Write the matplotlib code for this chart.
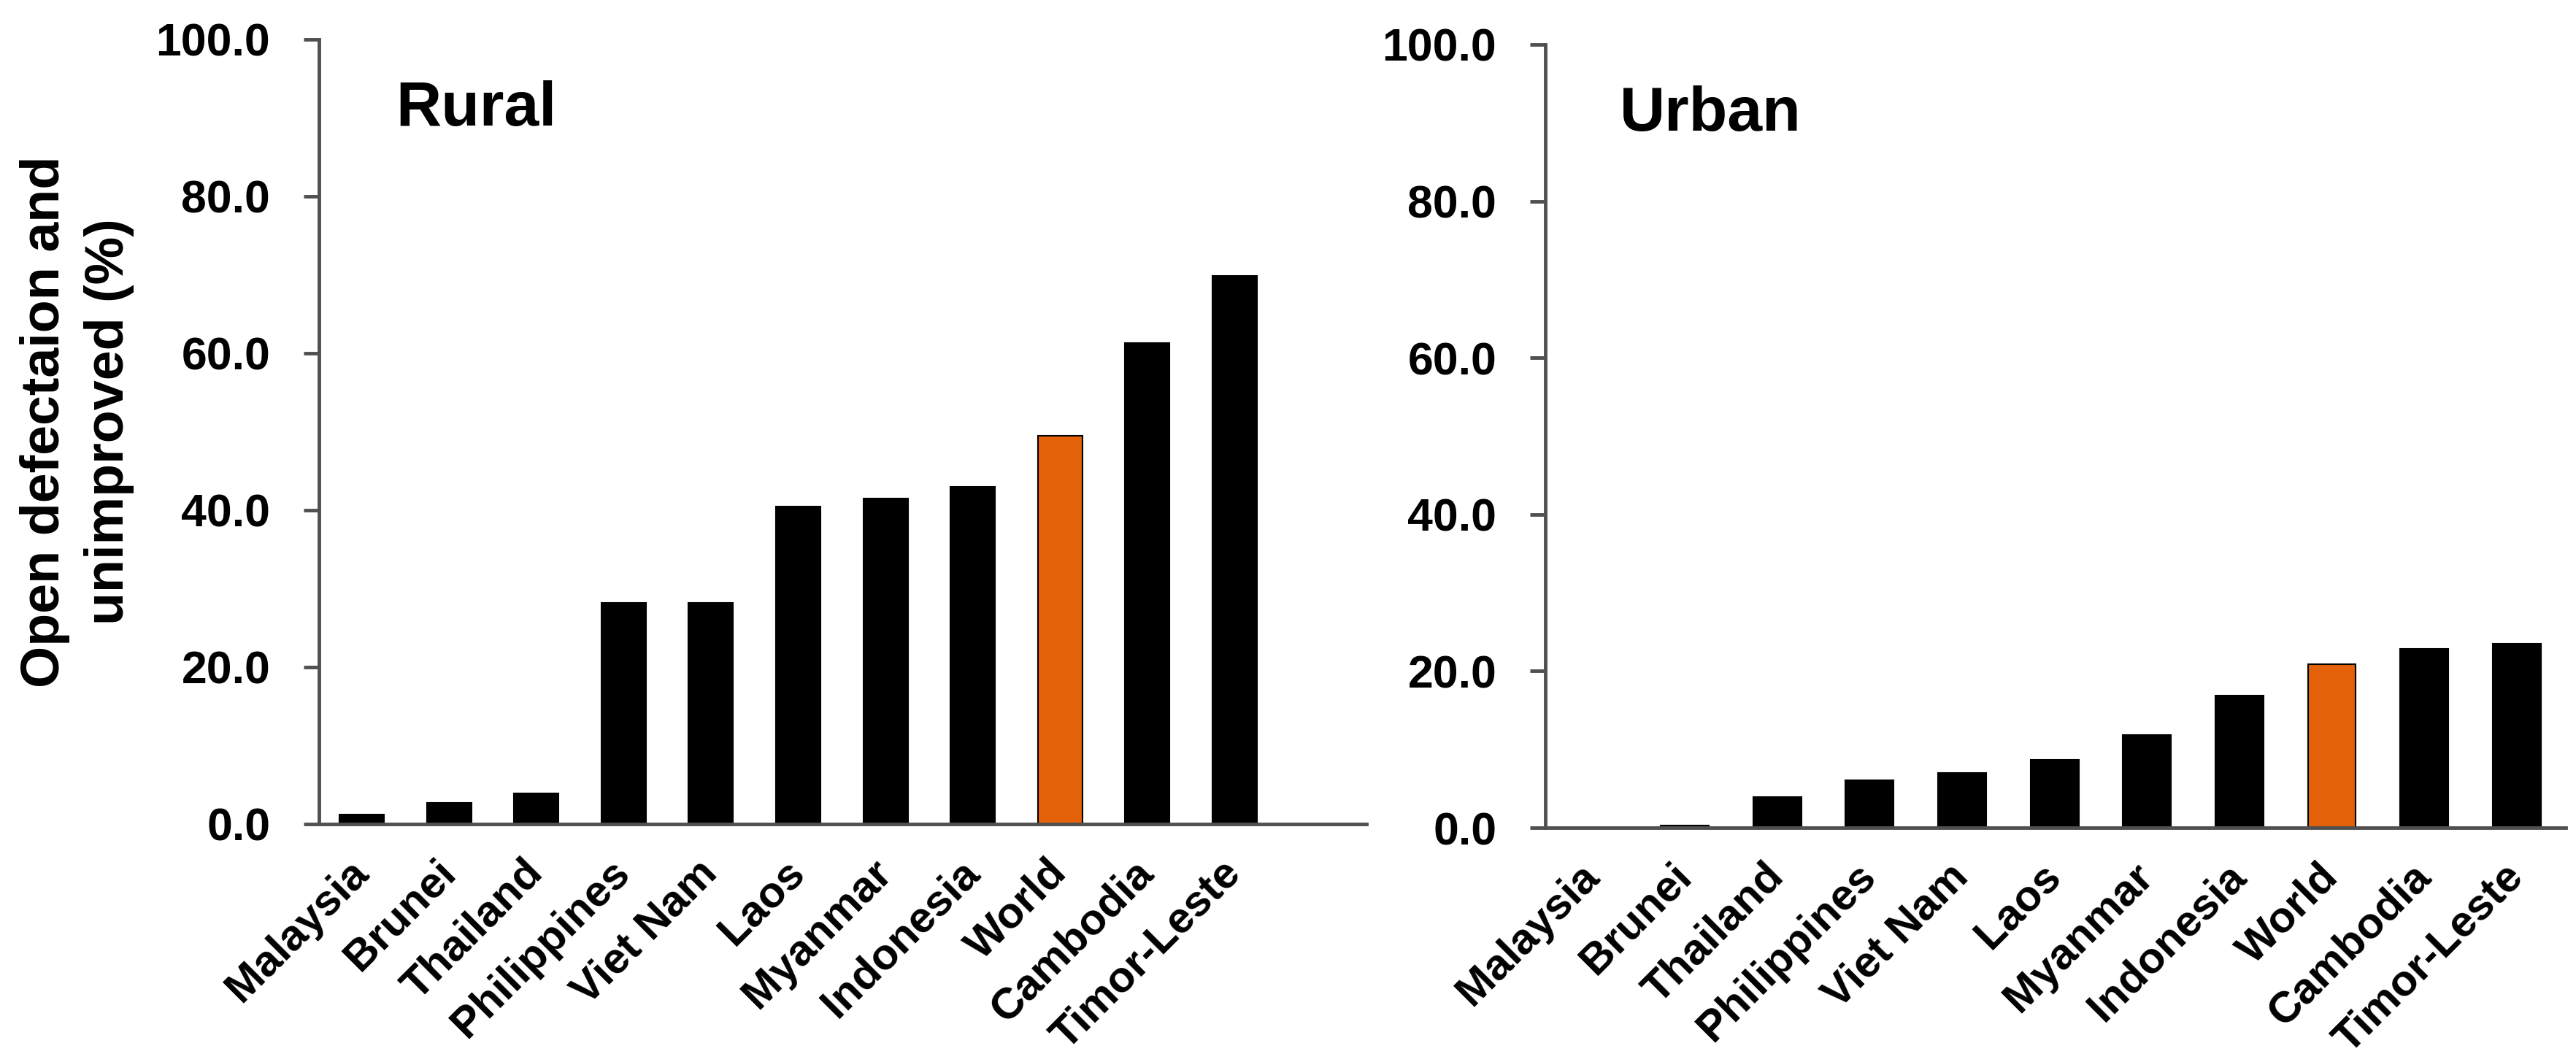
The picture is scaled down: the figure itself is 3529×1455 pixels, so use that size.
import matplotlib
matplotlib.use("Agg")
import matplotlib.pyplot as plt
from matplotlib.transforms import ScaledTranslation

countries = ['Malaysia', 'Brunei', 'Thailand', 'Philippines', 'Viet Nam', 'Laos',
             'Myanmar', 'Indonesia', 'World', 'Cambodia', 'Timor-Leste']
rural = [1.2, 2.7, 3.9, 28.2, 28.2, 40.5, 41.5, 43.0, 49.5, 61.3, 69.9]
urban = [0.0, 0.3, 3.9, 6.1, 7.0, 8.7, 11.8, 16.9, 20.9, 22.8, 23.5]
yticks = [0, 20, 40, 60, 80, 100]

plt.rcParams['font.family'] = ['Liberation Sans', 'DejaVu Sans']
plt.rcParams['font.weight'] = 'bold'

spine_col = '#505050'
orange = '#E36209'

fig = plt.figure(figsize=(35.3, 14.55), dpi=100)
ax1 = fig.add_axes([0.1238, 0.2241, 0.4065, 0.7388])
ax2 = fig.add_axes([0.5997, 0.2206, 0.3960, 0.7375])


def draw(ax, vals, xlim, width, title):
    x = list(range(len(vals)))
    colors = [orange if c == 'World' else 'black' for c in countries]
    ax.bar(x, vals, width=width, color=colors, edgecolor='black', linewidth=1.5, zorder=2)
    ax.set_xlim(*xlim)
    ax.set_ylim(0, 100)
    ax.set_yticks(yticks)
    ax.set_yticklabels(['%.1f' % v for v in yticks], fontsize=45, fontweight='bold')
    ax.set_xticks(x)
    ax.set_xticklabels(countries, fontsize=43, fontweight='bold', rotation=45,
                       ha='right', va='center', rotation_mode='anchor')
    shift = ScaledTranslation(8 / 100, 0, fig.dpi_scale_trans)
    for lab in ax.get_xticklabels():
        lab.set_transform(lab.get_transform() + shift)
    ax.tick_params(axis='y', direction='out', length=15, width=3.5, color=spine_col, pad=33)
    ax.tick_params(axis='x', length=0, pad=42)
    for s in ['top', 'right']:
        ax.spines[s].set_visible(False)
    for s in ['left', 'bottom']:
        ax.spines[s].set_color(spine_col)
        ax.spines[s].set_linewidth(3.5)
    ax.text(0.073, 0.89, title, transform=ax.transAxes, fontsize=62,
            fontweight='bold', va='baseline', ha='left')


draw(ax1, rural, (-0.49, 11.51), 0.51, 'Rural')
draw(ax2, urban, (-0.51, 10.53), 0.52, 'Urban')

fig.text(0.030, 0.603, 'Open defectaion and\nunimproved (%)', rotation=90,
         ha='center', va='center', multialignment='center', fontsize=53,
         fontweight='bold', linespacing=1.35)

fig.savefig('out.png', dpi=100)
